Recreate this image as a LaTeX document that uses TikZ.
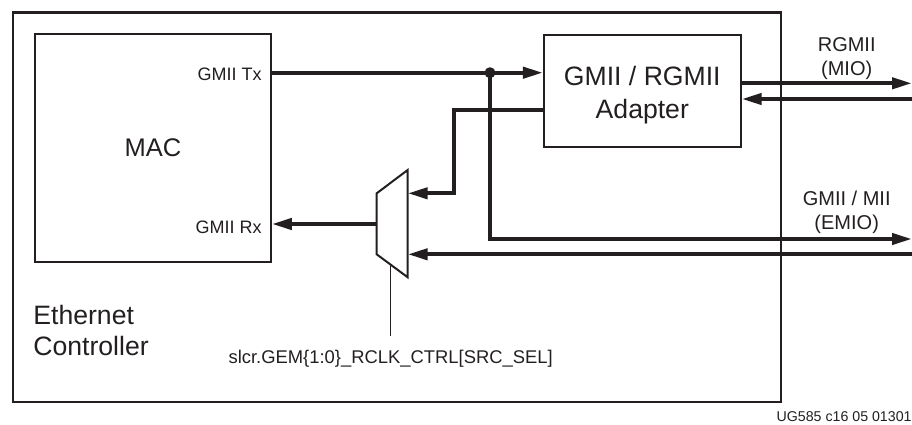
\documentclass[tikz,border=0pt]{standalone}
\usepackage{fontspec}
\setmainfont{Liberation Sans}
\usepackage{tikz}
\usetikzlibrary{arrows.meta,positioning,calc}
\definecolor{ink}{HTML}{231F20}

\begin{document}
\begin{tikzpicture}[x=0.5pt,y=-0.5pt,>={Triangle[length=10pt,width=5.5pt]}, block/.style={draw=ink,line width=1pt,inner sep=0pt,text=ink}, bus/.style={draw=ink,line width=2pt}, tag/.style={font=\fontsize{9}{11}\selectfont,text=ink,inner sep=0pt}, side/.style={font=\fontsize{10}{12.2}\selectfont,text=ink,inner sep=0pt,align=center,anchor=north}]
  \useasboundingbox (0,0) rectangle (912,424);
  \node[block,line width=1.2pt,minimum width=384.2pt,minimum height=194.7pt] (eth) at (396.9,207) {};
  \node[block,minimum width=117.85pt,minimum height=113.7pt,font=\fontsize{12.75}{15}\selectfont] (mac) at (152.9,148) {MAC};
  \node[block,minimum width=98.35pt,minimum height=56pt] (adp) at (642.3,91) {};
  \node[tag,align=center,font=\fontsize{13.3}{16.5}\selectfont] (adplbl) at ($(adp)+(0,4.3)$) {GMII / RGMII\\Adapter};
  \node[tag,anchor=east] (tx) at (262,74) {GMII Tx};
  \node[tag,anchor=east] (rx) at (262,227) {GMII Rx};
  \node[font=\fontsize{13.3}{15.5}\selectfont,text=ink,align=left,anchor=north west,inner sep=0pt] (ecl) at (33,305) {Ethernet\\Controller};
  \node[side] (mio) at (846.7,36.7) {RGMII\\(MIO)};
  \node[side] (emio) at (846.7,190.5) {GMII / MII\\(EMIO)};
  \node[tag,font=\fontsize{9.2}{11}\selectfont,anchor=north,inner ysep=7pt] (sel) at (390.7,336) {slcr.GEM\{1:0\}\_RCLK\_CTRL[SRC\_SEL]};
  \node[tag,font=\fontsize{7.1}{8}\selectfont,anchor=south east] (fig) at (912,422) {UG585 c16 05 01301};
  % mux
  \draw[ink,line width=1pt] (376.7,193.3) -- (407.7,170) -- (407.7,277.3) -- (376.7,254.3) -- cycle;
  \coordinate (mo) at (376.7,224);
  \coordinate (m1) at (407.7,193.3);
  \coordinate (m2) at (407.7,254.3);
  \coordinate (ctl) at (390.7,264.7);
  \coordinate (j) at (490,72.7);
  \foreach \n/\y in {mioTx/83.3,mioRx/99,emioTx/239,emioRx/254.3}{\coordinate (\n) at (912,\y);}
  % buses
  \draw[bus,->] (mac.east |- j) -- (adp.west |- j);
  \fill[ink] (j) circle (5.5);
  \draw[bus,->] (j) |- (emioTx);
  \draw[bus,->] (emioRx) -- (m2);
  \draw[bus,->] (adp.west |- 0,110) -| ($(m1)+(46,0)$) -- (m1);
  \draw[bus,->] (mo) -- (mac.east |- mo);
  \draw[bus,->] (adp.east |- mioTx) -- (mioTx);
  \draw[bus,->] (mioRx) -- (adp.east |- mioRx);
  \draw[ink,line width=0.5pt] (ctl) -- (sel.north);
\end{tikzpicture}
\end{document}
